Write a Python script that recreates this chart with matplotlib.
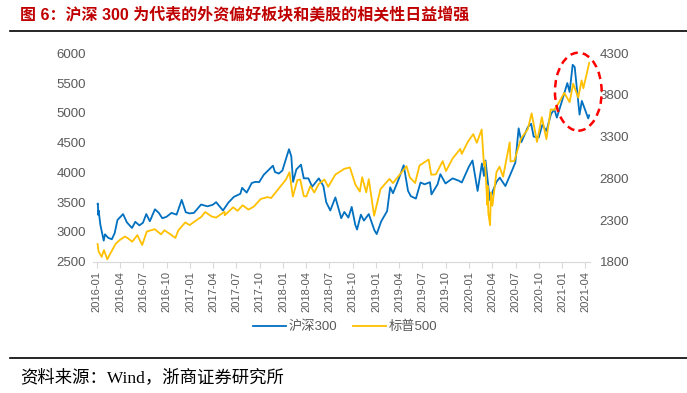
import matplotlib
matplotlib.use('Agg')
import matplotlib.pyplot as plt
import matplotlib.dates as mdates
from matplotlib.patches import Ellipse
from matplotlib.lines import Line2D
import pandas as pd

plt.rcParams['font.family'] = ['Liberation Sans', 'Noto Sans CJK SC']

# 沪深300 (left axis)
hs300_dates = [
    '2016-01-04', '2016-01-05', '2016-01-07', '2016-01-08', '2016-01-15', '2016-01-28',
    '2016-02-02', '2016-02-15', '2016-02-29', '2016-03-11', '2016-03-22', '2016-04-13',
    '2016-04-28', '2016-05-18', '2016-05-31', '2016-06-16', '2016-06-30', '2016-07-13',
    '2016-07-27', '2016-08-16', '2016-08-31', '2016-09-14', '2016-09-30', '2016-10-20',
    '2016-11-09', '2016-11-29', '2016-12-15', '2016-12-30', '2017-01-16', '2017-02-13',
    '2017-03-10', '2017-03-31', '2017-04-13', '2017-05-10', '2017-05-31', '2017-06-22',
    '2017-07-17', '2017-07-24', '2017-08-11', '2017-08-31', '2017-09-13', '2017-09-29',
    '2017-10-17', '2017-11-22', '2017-11-30', '2017-12-15', '2017-12-29', '2018-01-12',
    '2018-01-24', '2018-02-02', '2018-02-09', '2018-02-22', '2018-03-12', '2018-03-23',
    '2018-04-10', '2018-04-25', '2018-05-21', '2018-06-08', '2018-06-19', '2018-07-05',
    '2018-07-25', '2018-08-17', '2018-08-29', '2018-09-14', '2018-09-27', '2018-10-11',
    '2018-10-18', '2018-11-02', '2018-11-14', '2018-12-03', '2018-12-25', '2019-01-03',
    '2019-01-21', '2019-02-13', '2019-02-25', '2019-03-08', '2019-03-29', '2019-04-19',
    '2019-05-06', '2019-05-17', '2019-06-06', '2019-06-24', '2019-07-10', '2019-07-31',
    '2019-08-06', '2019-08-30', '2019-09-10', '2019-09-30', '2019-10-28', '2019-11-21',
    '2019-12-03', '2019-12-31', '2020-01-14', '2020-02-03', '2020-02-20', '2020-02-28',
    '2020-03-05', '2020-03-19', '2020-03-23', '2020-04-01', '2020-04-17', '2020-04-30',
    '2020-05-22', '2020-06-10', '2020-06-30', '2020-07-13', '2020-07-24', '2020-08-18',
    '2020-08-31', '2020-09-10', '2020-09-30', '2020-10-14', '2020-10-30', '2020-11-17',
    '2020-11-30', '2020-12-10', '2020-12-31', '2021-01-20', '2021-01-29', '2021-02-10',
    '2021-02-18', '2021-03-09', '2021-03-18', '2021-03-31', '2021-04-12', '2021-04-16',
]
hs300_vals = [
    3470, 3478, 3284, 3361, 3118, 2853,
    2960, 2900, 2877, 2980, 3200, 3300,
    3160, 3066, 3170, 3110, 3154, 3300,
    3180, 3380, 3321, 3230, 3253, 3320,
    3290, 3538, 3330, 3311, 3320, 3460,
    3430, 3456, 3500, 3360, 3492, 3590,
    3640, 3740, 3660, 3822, 3840, 3837,
    3960, 4112, 4006, 3980, 4031, 4225,
    4389, 4270, 3840, 4050, 4130, 3900,
    3900, 3760, 3900, 3770, 3500, 3360,
    3580, 3230, 3335, 3240, 3420, 3120,
    3040, 3290, 3190, 3300, 3030, 2964,
    3180, 3350, 3750, 3650, 3872, 4120,
    3690, 3600, 3560, 3830, 3800, 3835,
    3630, 3800, 3970, 3814, 3900, 3860,
    3830, 4097, 4200, 3688, 4150, 3940,
    4200, 3650, 3530, 3670, 3840, 3912,
    3770, 3960, 4164, 4740, 4510, 4760,
    4816, 4600, 4587, 4800, 4695, 4980,
    5060, 4920, 5211, 5500, 5351, 5807,
    5768, 4970, 5200, 5048, 4906, 4960,
]

# 标普500 (right axis)
spx_dates = [
    '2016-01-04', '2016-01-08', '2016-01-20', '2016-01-29', '2016-02-11', '2016-02-29',
    '2016-03-15', '2016-03-31', '2016-04-20', '2016-05-02', '2016-05-19', '2016-06-08',
    '2016-06-27', '2016-07-15', '2016-08-15', '2016-09-09', '2016-09-22', '2016-10-14',
    '2016-11-04', '2016-11-16', '2016-12-13', '2016-12-30', '2017-01-26', '2017-02-14',
    '2017-03-01', '2017-03-27', '2017-04-13', '2017-05-16', '2017-05-17', '2017-06-19',
    '2017-07-06', '2017-07-26', '2017-08-18', '2017-09-08', '2017-10-05', '2017-10-31',
    '2017-11-15', '2017-12-18', '2018-01-12', '2018-01-26', '2018-02-08', '2018-02-26',
    '2018-03-09', '2018-03-23', '2018-04-02', '2018-04-18', '2018-05-03', '2018-05-21',
    '2018-06-12', '2018-06-27', '2018-07-25', '2018-08-29', '2018-09-20', '2018-10-11',
    '2018-10-29', '2018-11-07', '2018-11-23', '2018-12-03', '2018-12-24', '2019-01-18',
    '2019-02-22', '2019-03-08', '2019-04-30', '2019-05-13', '2019-06-03', '2019-06-20',
    '2019-07-26', '2019-08-05', '2019-08-23', '2019-09-19', '2019-10-02', '2019-10-28',
    '2019-11-27', '2019-12-03', '2019-12-27', '2020-01-17', '2020-01-31', '2020-02-19',
    '2020-02-28', '2020-03-03', '2020-03-12', '2020-03-13', '2020-03-16', '2020-03-23',
    '2020-03-26', '2020-04-01', '2020-04-17', '2020-04-29', '2020-05-13', '2020-06-08',
    '2020-06-11', '2020-06-26', '2020-07-22', '2020-08-18', '2020-09-02', '2020-09-23',
    '2020-10-12', '2020-10-30', '2020-11-16', '2020-11-30', '2020-12-18', '2021-01-08',
    '2021-01-29', '2021-02-12', '2021-03-04', '2021-03-17', '2021-03-24', '2021-04-16',
]
spx_vals = [
    2012, 1922, 1859, 1940, 1829, 1932,
    2015, 2060, 2102, 2081, 2040, 2119,
    2000, 2162, 2190, 2128, 2177, 2133,
    2085, 2177, 2271, 2239, 2298, 2338,
    2396, 2342, 2329, 2400, 2357, 2453,
    2410, 2477, 2425, 2461, 2552, 2575,
    2564, 2690, 2786, 2873, 2581, 2780,
    2786, 2588, 2582, 2708, 2630, 2733,
    2786, 2699, 2846, 2914, 2931, 2728,
    2641, 2814, 2633, 2790, 2351, 2671,
    2793, 2743, 2946, 2812, 2744, 2954,
    3026, 2844, 2847, 3006, 2887, 3039,
    3153, 3093, 3240, 3330, 3226, 3386,
    2954, 3003, 2481, 2711, 2386, 2237,
    2630, 2471, 2875, 2940, 2820, 3232,
    3002, 3009, 3276, 3390, 3580, 3237,
    3534, 3270, 3627, 3622, 3709, 3825,
    3714, 3935, 3768, 3975, 3881, 4185,
]

W, H = 687, 393
gray = '#595959'

fig = plt.figure(figsize=(W / 100, H / 100), dpi=100)
ax = fig.add_axes([93 / W, 1 - 261.7 / H, (590 - 93) / W, (261.7 - 53.3) / H])
ax2 = ax.twinx()

l1, = ax.plot(pd.to_datetime(hs300_dates), hs300_vals, color='#0070C0', lw=1.3, label='沪深300')
l2, = ax2.plot(pd.to_datetime(spx_dates), spx_vals, color='#FFC000', lw=1.3, label='标普500')

ax.set_xlim(pd.Timestamp('2015-12-17'), pd.Timestamp('2021-04-19'))
ax.set_ylim(2500, 6000)
ax2.set_ylim(1800, 4300)
ax.set_yticks(range(2500, 6001, 500))
ax2.set_yticks(range(1800, 4301, 500))

ax.xaxis.set_major_locator(mdates.MonthLocator(bymonth=[1, 4, 7, 10]))
ax.xaxis.set_major_formatter(mdates.DateFormatter('%Y-%m'))
ax.tick_params(axis='x', labelrotation=90, labelsize=8, colors=gray, length=4,
               color='#d9d9d9', pad=3)
ax.tick_params(axis='y', labelsize=9.5, colors=gray, length=0, pad=5)
ax2.tick_params(axis='y', labelsize=9.5, colors=gray, length=0, pad=7)

for a in (ax, ax2):
    for s in a.spines.values():
        s.set_visible(False)
ax.spines['bottom'].set_visible(True)
ax.spines['bottom'].set_color('#d9d9d9')

# legend
fig.legend(handles=[l1, l2], loc='center', bbox_to_anchor=(345 / W, 1 - 327 / H),
           ncol=2, frameon=False, fontsize=9.5, labelcolor=gray, handlelength=2.5,
           handletextpad=0.2, columnspacing=1.2)

# red dashed circle around the latest divergence
fig.add_artist(Ellipse((578.3 / W, 1 - 91.7 / H), 46.7 / W, 78 / H, transform=fig.transFigure,
                       fill=False, edgecolor='#FF0000', lw=1.8, linestyle=(0, (3, 2))))

# title, rules and source
fig.text(20 / W, 1 - 15 / H, '图 6：沪深 300 为代表的外资偏好板块和美股的相关性日益增强',
         fontsize=11.5, weight='bold', color='#C00000', va='center')
fig.add_artist(Line2D([10 / W, 1], [1 - 30.5 / H] * 2, color='black', lw=1.2,
                      transform=fig.transFigure))
fig.add_artist(Line2D([10 / W, 1], [1 - 357.5 / H] * 2, color='black', lw=1.2,
                      transform=fig.transFigure))
fig.text(20 / W, 1 - 378 / H, '资料来源：Wind，浙商证券研究所', fontsize=12.5,
         family=['Liberation Serif', 'Noto Sans CJK SC'], va='center')

fig.savefig('out.png', dpi=100)
